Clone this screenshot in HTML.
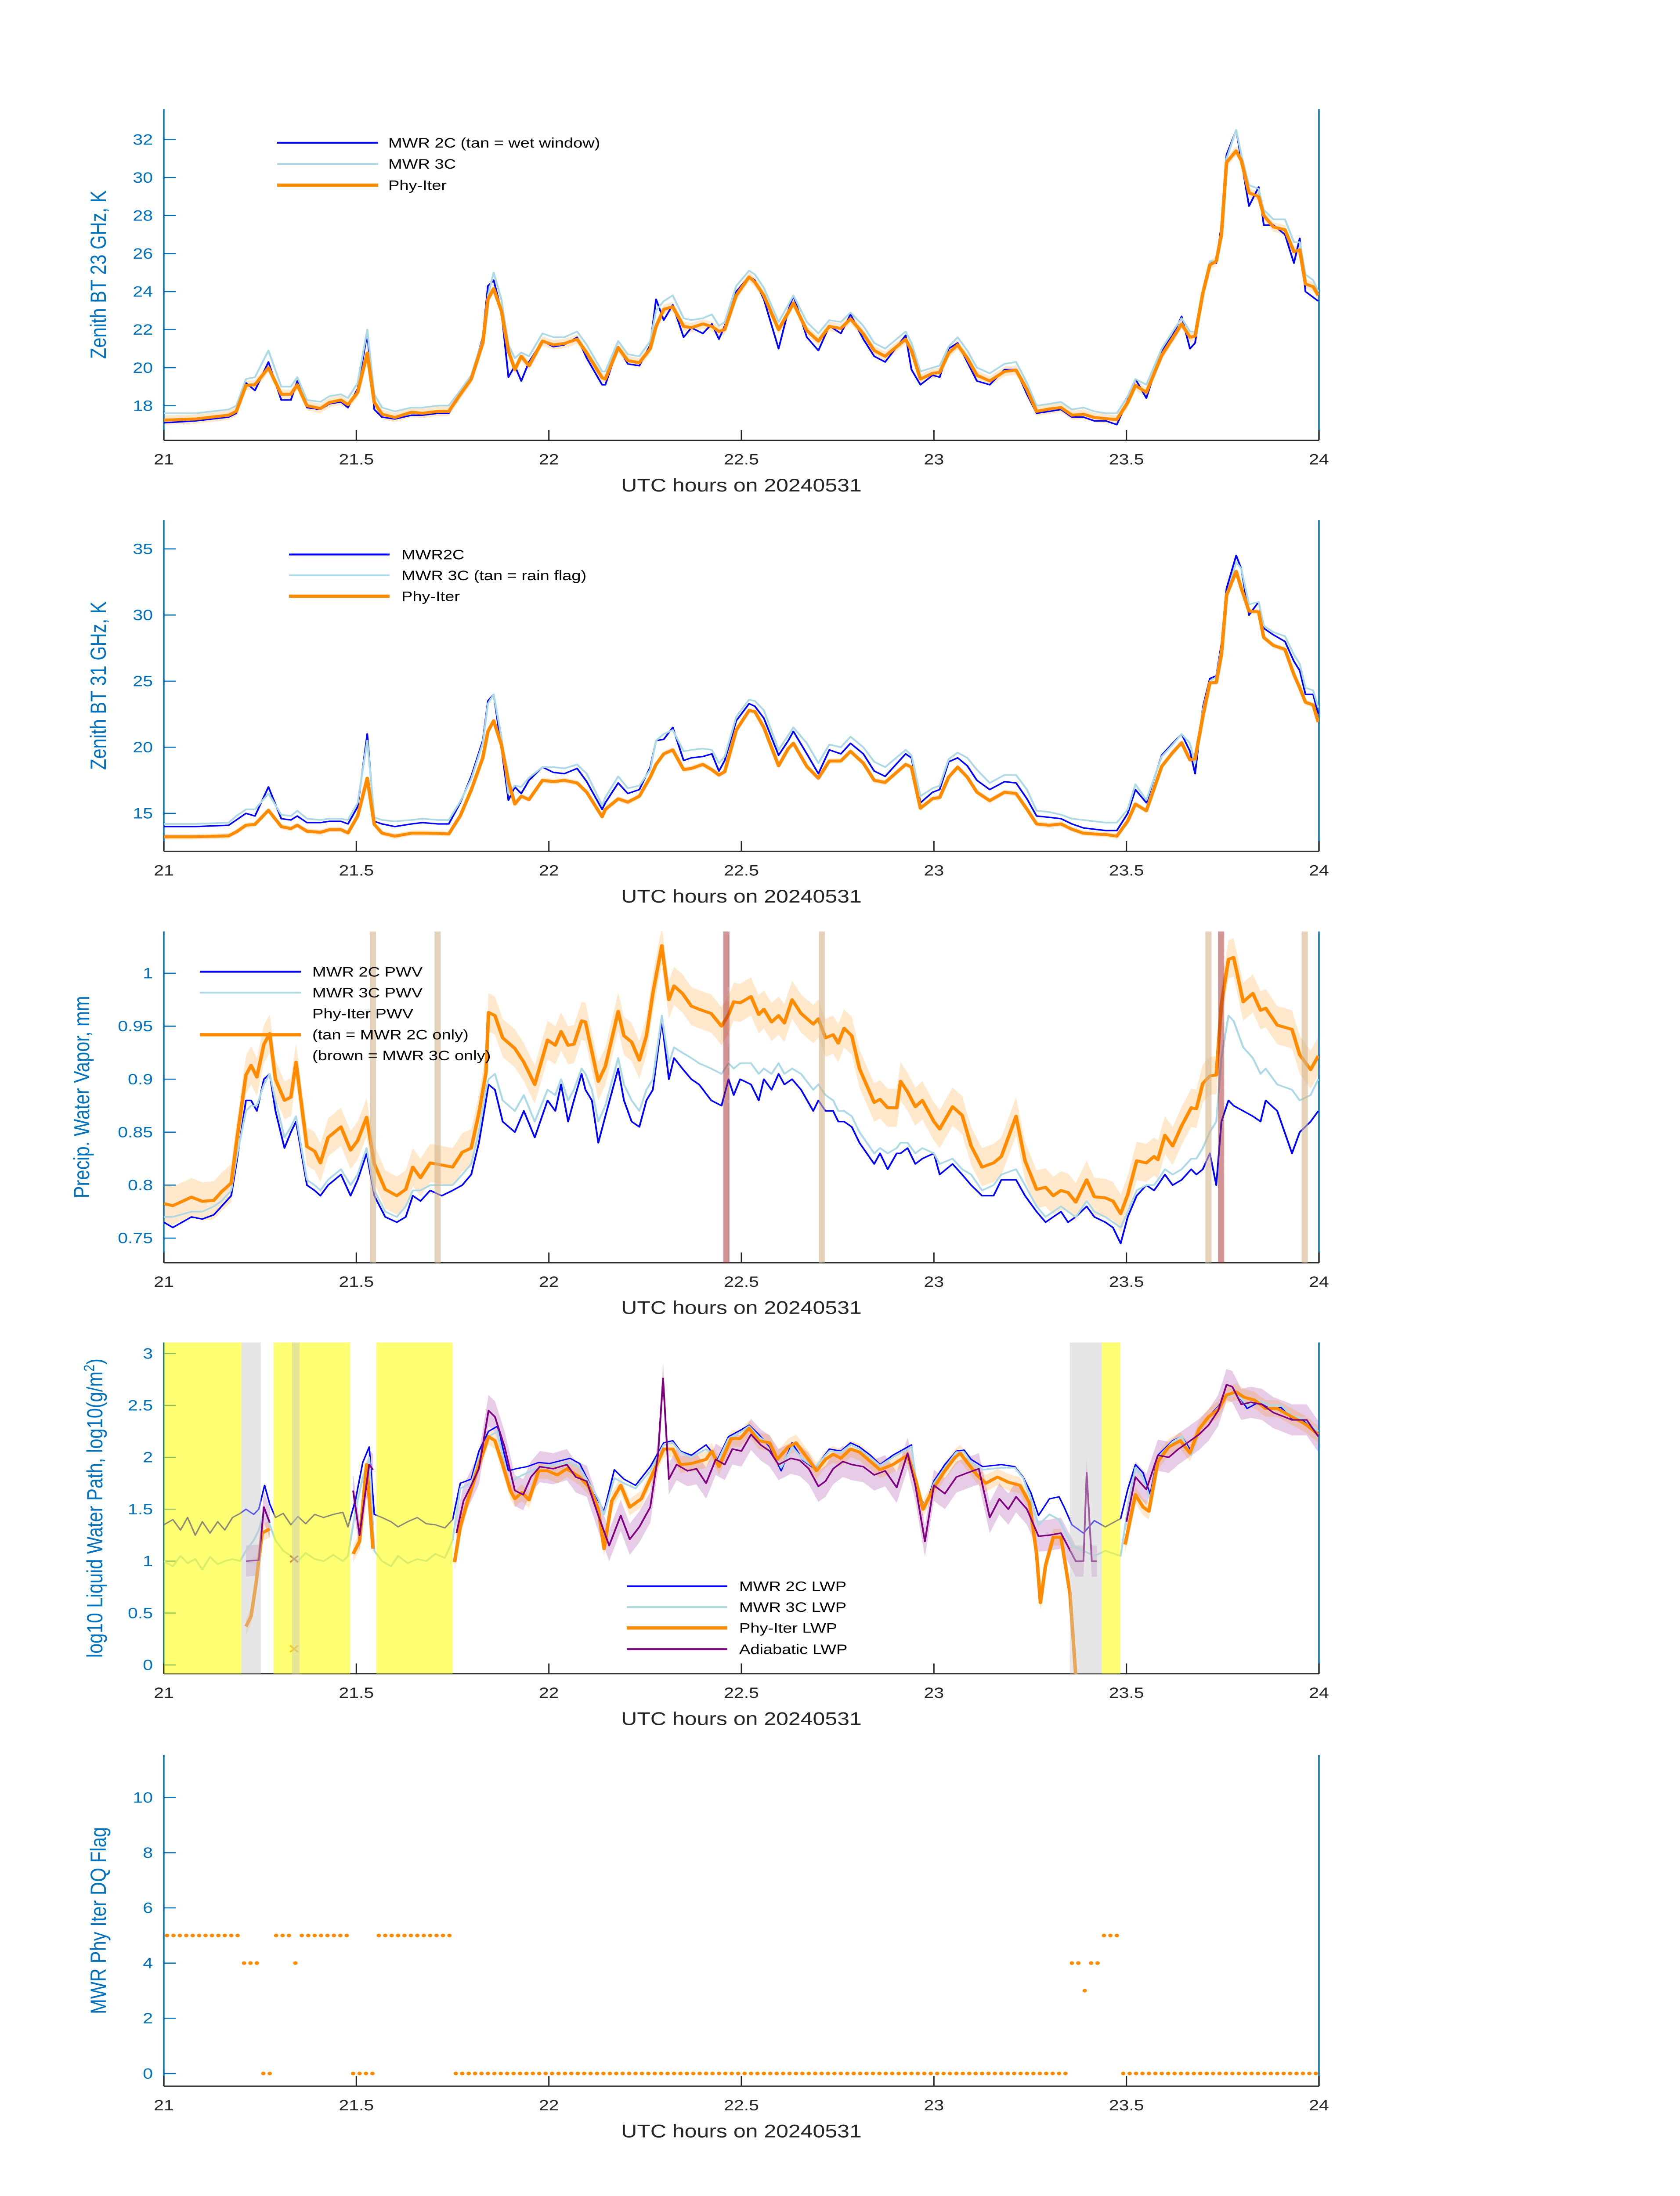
<!DOCTYPE html>
<html><head><meta charset="utf-8"><style>
html,body{margin:0;padding:0;background:#fff;width:100%;height:100%;overflow:hidden;}
svg{display:block;position:absolute;left:0;top:0;width:100vw;height:100vh;font-family:"Liberation Sans","DejaVu Sans",sans-serif;}
</style></head><body>
<svg id="fig" xmlns="http://www.w3.org/2000/svg" viewBox="0 0 3825 6000" preserveAspectRatio="none">
<rect x="0" y="0" width="3825" height="6000" fill="#ffffff"/>
</svg>
<script>
// ---------- data ----------
const xTicks=[21,21.5,22,22.5,23,23.5,24];
const xTickLabels=["21","21.5","22","22.5","23","23.5","24"];
const yTicks1=[18,20,22,24,26,28,30,32];
const yTicks2=[15,20,25,30,35];
const yTicks3=[0.75,0.8,0.85,0.9,0.95,1];
const yTickLabels3=["0.75","0.8","0.85","0.9","0.95","1"];
const yTicks4=[0,0.5,1,1.5,2,2.5,3];
const yTickLabels4=["0","0.5","1","1.5","2","2.5","3"];
const yTicks5=[0,2,4,6,8,10];

// panel 1 & 2 time grid (minutes after 21 UTC)
const tMin12=[0,4.9,10.1,11.3,12.8,14.2,16.3,18.3,19.8,20.8,22.3,24.4,25.8,27.6,28.7,30.2,31.7,32.8,34.0,36.0,38.6,40.3,42.7,44.4,46.2,47.9,49.7,50.5,51.4,52.6,53.7,54.7,55.7,56.9,59.0,60.7,62.4,64.4,65.9,68.3,68.8,70.8,72.3,74.1,75.8,76.7,77.9,79.3,81.0,82.2,84.0,85.4,86.5,87.4,89.2,91.2,92.1,93.5,95.8,97.3,98.1,100.2,102.0,103.7,105.5,107.0,109.0,110.7,112.4,115.6,116.5,117.9,119.8,120.9,122.3,123.7,125.2,126.7,128.7,131.0,132.8,134.5,136.0,138.0,139.8,141.5,143.3,145.0,146.8,148.5,150.2,151.4,153.1,155.5,157.2,158.6,159.9,160.7,161.9,163.0,164.0,164.8,165.6,167.1,167.9,169.1,170.6,171.4,172.9,174.7,176.1,177.0,177.9,179.1,179.9];
const bt23_2c=[17.1,17.2,17.4,17.6,19.2,18.8,20.3,18.3,18.3,19.3,17.9,17.8,18.1,18.2,17.9,18.9,21.8,17.8,17.4,17.3,17.5,17.5,17.6,17.6,18.6,19.5,21.6,24.3,24.6,23.0,19.5,20.1,19.3,20.3,21.4,21.1,21.2,21.6,20.5,19.1,19.1,21.1,20.2,20.1,21.2,23.6,22.5,23.3,21.6,22.1,21.8,22.3,21.5,22.2,24.0,24.8,24.6,23.6,21.0,23.0,23.8,21.6,20.9,22.2,21.8,22.8,21.5,20.6,20.3,21.7,19.9,19.1,19.6,19.5,21.0,21.3,20.3,19.3,19.1,19.9,19.9,18.6,17.6,17.7,17.8,17.4,17.4,17.2,17.2,17.0,18.3,19.4,18.4,20.9,21.7,22.7,21.0,21.3,24.0,25.6,25.5,27.5,31.2,32.5,30.9,28.5,29.5,27.5,27.5,27.0,25.5,26.8,24.0,23.7,23.5];
const bt23_3c=[17.6,17.6,17.8,18.0,19.4,19.5,20.9,19.0,19.0,19.5,18.3,18.2,18.5,18.6,18.4,19.2,22.0,18.6,17.9,17.7,17.9,17.9,18.0,18.0,18.8,19.6,21.5,23.8,25.0,23.6,21.2,20.5,20.8,20.6,21.8,21.6,21.6,21.9,21.2,19.8,19.8,21.4,20.7,20.6,21.4,23.0,23.5,23.8,22.6,22.5,22.6,22.8,22.2,22.4,24.3,25.1,24.9,24.2,22.4,23.3,23.8,22.4,21.8,22.5,22.4,22.9,22.2,21.3,21.0,21.9,21.3,19.8,20.0,20.1,21.1,21.6,20.9,20.0,19.7,20.2,20.3,19.2,18.0,18.1,18.2,17.8,17.9,17.7,17.6,17.6,18.5,19.4,19.1,21.0,21.9,22.6,21.9,21.9,24.1,25.6,25.6,27.2,31.0,32.5,31.2,29.6,29.4,28.3,27.8,27.8,26.6,26.6,24.9,24.6,24.0];
const bt23_phy=[17.24,17.3,17.5,17.7,19.07,19.1,20.0,18.6,18.6,19.1,18.0,17.85,18.17,18.3,18.05,18.7,20.77,18.17,17.55,17.38,17.66,17.6,17.7,17.7,18.6,19.4,21.3,23.6,24.15,23.0,20.88,19.9,20.6,20.1,21.4,21.2,21.27,21.5,20.77,19.47,19.4,21.05,20.37,20.26,21.0,22.17,23.07,23.2,22.17,22.1,22.3,22.17,21.9,22.0,23.8,24.77,24.5,23.8,22.0,22.9,23.4,21.95,21.4,22.17,22.06,22.57,21.78,20.9,20.6,21.5,20.9,19.4,19.7,19.75,20.77,21.2,20.5,19.6,19.3,19.8,19.87,18.85,17.7,17.83,17.9,17.5,17.55,17.38,17.32,17.27,18.17,19.07,18.7,20.65,21.55,22.3,21.6,21.66,23.9,25.4,25.6,27.0,30.8,31.4,30.9,29.2,29.0,28.0,27.4,27.25,26.1,26.2,24.4,24.26,23.8];
const bt31_2c=[14.0,14.0,14.1,14.5,15.0,14.8,17.0,14.6,14.5,14.8,14.3,14.3,14.4,14.4,14.2,15.5,21.0,14.4,14.2,14.0,14.2,14.3,14.2,14.2,15.8,17.8,20.5,23.5,24.0,20.0,16.0,17.0,16.5,17.5,18.5,18.1,18.0,18.4,17.4,15.3,15.8,17.3,16.5,16.8,18.5,20.5,20.6,21.5,19.0,19.2,19.3,19.5,18.2,19.0,22.0,23.3,23.1,22.2,19.4,20.5,21.2,19.5,18.0,19.8,19.5,20.3,19.5,18.2,17.8,19.5,19.2,15.8,16.6,16.8,18.9,19.2,18.6,17.5,16.8,17.4,17.3,16.1,14.8,14.7,14.6,14.2,13.9,13.8,13.7,13.7,15.0,16.8,15.8,19.4,20.3,21.0,19.7,18.0,23.0,25.2,25.4,27.8,32.0,34.5,33.5,30.0,31.0,29.0,28.5,28.0,26.5,25.8,24.0,24.0,22.5];
const bt31_3c=[14.2,14.2,14.3,14.8,15.3,15.3,16.5,14.9,14.8,15.2,14.6,14.5,14.6,14.6,14.5,15.8,20.5,14.7,14.5,14.4,14.5,14.6,14.5,14.5,15.9,17.6,20.3,23.3,24.0,20.8,16.5,17.1,17.0,17.7,18.5,18.5,18.4,18.7,18.0,15.6,16.2,17.8,16.9,17.1,18.3,20.5,21.0,21.3,19.7,19.8,19.9,19.8,18.8,19.3,22.3,23.6,23.5,22.8,19.8,20.9,21.5,20.3,18.8,20.2,20.0,20.8,20.0,18.9,18.5,19.8,19.4,16.3,16.9,17.1,19.1,19.6,19.2,18.3,17.3,17.9,17.9,16.8,15.2,15.1,14.9,14.6,14.5,14.4,14.3,14.3,15.3,17.2,16.0,19.3,20.2,21.0,20.3,18.8,22.8,25.0,25.3,27.5,31.5,34.0,33.5,30.8,31.0,29.2,28.7,28.4,27.0,26.3,24.5,24.3,23.0];
const bt31_phy=[13.23,13.23,13.3,13.6,14.1,14.17,15.23,14.0,13.85,14.1,13.65,13.57,13.77,13.77,13.52,14.8,17.66,14.17,13.5,13.28,13.5,13.5,13.49,13.44,14.82,16.77,19.2,21.2,22.0,20.2,17.42,15.71,16.3,16.04,17.5,17.4,17.5,17.3,16.6,14.74,15.3,16.1,15.85,16.3,17.74,18.7,19.5,19.8,18.31,18.4,18.7,18.3,17.9,18.15,21.3,22.78,22.7,21.5,18.6,19.9,20.3,18.55,17.66,18.96,18.96,19.69,18.8,17.5,17.34,18.7,18.5,15.39,16.12,16.2,17.74,18.5,17.74,16.6,15.96,16.6,16.5,15.31,14.2,14.1,14.2,13.8,13.5,13.44,13.4,13.28,14.42,15.7,15.2,18.55,19.6,20.34,19.04,19.12,22.29,24.89,24.89,27.0,31.5,33.3,32.03,30.3,30.24,28.3,27.7,27.4,25.5,24.5,23.4,23.2,21.9];

// panel 3
const tMin3=[0,1.4,4.3,6.0,7.8,9.0,10.5,11.3,12.8,13.6,14.5,15.6,16.5,17.4,18.8,19.8,20.6,22.3,23.5,24.4,25.6,27.6,29.1,30.2,31.6,32.8,34.5,36.3,37.7,38.8,40.0,41.5,43.3,45.0,46.5,47.9,49.1,50.2,50.6,51.6,52.8,54.7,56.1,57.8,59.8,61.0,61.9,63.0,63.9,65.1,65.7,66.7,67.7,68.8,70.8,71.7,72.9,74.1,75.2,76.2,77.6,78.7,79.5,80.8,82.2,83.4,85.3,86.9,88.0,88.8,89.8,91.5,92.7,93.5,94.7,95.8,96.7,97.9,99.3,101.2,102.0,103.1,104.3,105.1,106.0,107.2,108.4,110.7,111.6,112.8,114.2,114.8,115.9,117.1,118.2,120.0,120.9,122.9,124.4,125.8,127.5,129.3,130.5,132.8,134.2,136.0,137.4,138.6,139.8,140.9,142.1,143.8,145.0,146.7,147.9,149.1,150.2,151.6,153.1,154.3,154.9,156.0,157.2,158.6,160.1,160.9,161.9,163.0,164.0,164.8,165.9,166.7,168.2,169.7,170.9,171.7,173.5,175.8,177.0,178.7,179.9];
const pwv_2c=[0.765,0.760,0.770,0.768,0.772,0.780,0.790,0.820,0.880,0.880,0.870,0.900,0.905,0.870,0.835,0.850,0.860,0.800,0.795,0.790,0.800,0.810,0.790,0.805,0.830,0.790,0.770,0.765,0.770,0.790,0.785,0.795,0.790,0.795,0.800,0.810,0.840,0.880,0.895,0.890,0.860,0.850,0.870,0.845,0.880,0.870,0.895,0.860,0.880,0.905,0.890,0.880,0.840,0.865,0.910,0.880,0.860,0.855,0.880,0.890,0.955,0.900,0.920,0.910,0.900,0.895,0.880,0.875,0.900,0.885,0.900,0.895,0.880,0.900,0.890,0.905,0.895,0.900,0.890,0.870,0.880,0.870,0.870,0.860,0.860,0.855,0.840,0.820,0.830,0.815,0.830,0.830,0.835,0.820,0.825,0.830,0.810,0.820,0.810,0.800,0.790,0.790,0.805,0.805,0.790,0.775,0.765,0.770,0.775,0.765,0.770,0.780,0.770,0.765,0.760,0.745,0.770,0.790,0.800,0.795,0.800,0.810,0.800,0.805,0.815,0.810,0.815,0.830,0.800,0.860,0.880,0.875,0.870,0.865,0.860,0.880,0.870,0.830,0.850,0.860,0.870];
const pwv_3c=[0.770,0.770,0.775,0.775,0.780,0.785,0.795,0.825,0.870,0.875,0.875,0.895,0.905,0.880,0.845,0.855,0.865,0.805,0.800,0.795,0.805,0.815,0.800,0.810,0.835,0.795,0.775,0.770,0.780,0.795,0.795,0.800,0.800,0.800,0.810,0.820,0.850,0.890,0.900,0.905,0.880,0.870,0.885,0.860,0.890,0.885,0.900,0.880,0.890,0.910,0.905,0.890,0.860,0.875,0.920,0.895,0.880,0.870,0.890,0.900,0.960,0.915,0.930,0.925,0.920,0.915,0.910,0.905,0.915,0.910,0.915,0.915,0.905,0.910,0.905,0.915,0.905,0.910,0.905,0.890,0.895,0.885,0.880,0.870,0.870,0.865,0.850,0.830,0.835,0.830,0.835,0.840,0.840,0.830,0.835,0.830,0.820,0.825,0.815,0.810,0.795,0.800,0.810,0.815,0.800,0.780,0.770,0.775,0.780,0.775,0.770,0.785,0.775,0.770,0.765,0.760,0.775,0.795,0.800,0.800,0.805,0.815,0.810,0.815,0.825,0.825,0.835,0.850,0.860,0.920,0.960,0.955,0.930,0.920,0.905,0.910,0.895,0.890,0.880,0.885,0.900];
const pwv_phy=[0.7826,0.7806,0.7887,0.7847,0.7857,0.7938,0.8019,0.8394,0.904,0.913,0.902,0.933,0.943,0.900,0.880,0.883,0.916,0.8364,0.832,0.821,0.845,0.855,0.833,0.842,0.864,0.820,0.796,0.790,0.796,0.817,0.807,0.821,0.819,0.817,0.831,0.835,0.868,0.906,0.963,0.960,0.939,0.929,0.916,0.895,0.937,0.932,0.945,0.932,0.933,0.955,0.954,0.926,0.898,0.912,0.964,0.941,0.935,0.918,0.941,0.981,1.026,0.975,0.988,0.981,0.969,0.966,0.962,0.950,0.961,0.973,0.972,0.978,0.961,0.966,0.954,0.960,0.953,0.975,0.962,0.952,0.957,0.939,0.942,0.934,0.948,0.941,0.910,0.878,0.881,0.873,0.873,0.898,0.888,0.874,0.880,0.860,0.853,0.874,0.866,0.837,0.817,0.821,0.827,0.865,0.823,0.796,0.798,0.790,0.795,0.793,0.784,0.805,0.789,0.788,0.785,0.773,0.791,0.823,0.821,0.827,0.824,0.847,0.837,0.856,0.873,0.872,0.896,0.903,0.904,0.971,1.013,1.015,0.973,0.981,0.965,0.967,0.951,0.947,0.923,0.909,0.922];
const tanFlagHours=[21.543,21.711,22.709,23.713,23.963];
const brownFlagHours=[22.461,23.746];

// panel 4
const tMin4=[0,1.4,2.6,3.7,4.9,6.0,7.2,8.4,9.5,10.7,11.9,12.8,14.0,14.8,15.7,16.5,17.4,18.6,19.8,20.9,22.1,23.5,24.9,26.4,27.9,28.7,29.9,31.0,32.0,32.8,34.0,35.4,36.5,38.0,39.5,40.9,42.3,43.8,45.0,46.2,47.9,49.1,50.6,52.0,53.7,54.9,56.6,58.4,60.1,63.3,64.8,67.7,68.6,70.2,71.7,73.5,75.8,77.9,79.3,80.5,82.2,84.5,86.3,88.0,89.8,91.2,92.7,94.4,96.2,97.9,99.6,101.4,103.7,105.5,107.0,108.4,110.1,111.6,113.6,116.5,117.4,118.6,120.0,121.7,123.5,124.7,125.8,127.6,130.5,132.6,133.9,135.1,136.3,138.0,139.5,140.3,141.5,143.3,145.0,146.7,149.1,150.2,151.4,152.6,153.7,154.9,157.2,158.6,160.1,161.3,162.8,164.3,165.6,167.1,168.8,170.6,172.3,174.1,175.8,177.6,179.9];
const lwp_2c=[1.35,1.4,1.3,1.42,1.25,1.38,1.27,1.38,1.3,1.42,1.46,1.5,1.45,1.5,1.73,1.55,1.42,1.46,1.35,1.43,1.36,1.45,1.42,1.45,1.47,1.33,1.6,1.95,2.1,1.45,1.42,1.38,1.33,1.38,1.42,1.36,1.35,1.32,1.4,1.75,1.79,2.06,2.25,2.3,1.87,1.89,1.91,1.95,1.94,1.99,1.94,1.58,1.48,1.88,1.79,1.73,1.91,2.14,2.16,2.06,2.02,2.12,1.98,2.2,2.26,2.31,2.22,2.1,1.87,2.14,1.97,1.89,2.08,2.06,2.14,2.1,2.02,1.93,2.02,2.12,1.69,1.52,1.77,1.93,2.06,2.07,1.98,1.91,1.93,1.91,1.81,1.66,1.44,1.6,1.62,1.52,1.35,1.27,1.39,1.33,1.41,1.69,1.93,1.85,1.64,2.02,2.16,2.2,2.06,2.27,2.39,2.49,2.6,2.63,2.47,2.53,2.47,2.48,2.37,2.35,2.22];
const lwp_3c=[1.0,0.95,1.05,0.98,1.02,0.92,1.04,0.97,1.0,1.02,1.0,1.1,1.2,1.3,1.5,1.35,1.2,1.1,1.05,1.0,1.08,1.02,1.0,1.06,1.0,1.05,1.5,1.8,2.0,1.1,1.0,0.95,1.05,0.98,1.02,1.0,1.07,1.03,1.2,1.7,1.75,2.0,2.2,2.25,1.75,1.8,1.85,1.9,1.92,1.95,1.9,1.6,1.45,1.8,1.75,1.7,1.87,2.12,2.14,2.05,2.0,2.08,1.96,2.18,2.24,2.3,2.2,2.12,1.9,2.1,1.98,1.9,2.06,2.05,2.12,2.08,2.0,1.92,2.0,2.1,1.7,1.5,1.75,1.9,2.05,2.05,1.95,1.88,1.9,1.9,1.8,1.6,1.35,1.45,1.4,1.3,1.15,1.1,1.05,1.1,1.05,1.5,1.9,1.8,1.6,2.0,2.15,2.2,2.02,2.25,2.38,2.48,2.58,2.62,2.5,2.55,2.5,2.5,2.4,2.37,2.25];
const tMinPhy4=[12.8,13.6,14.4,15.3,16.5,null,29.5,30.5,31.6,32.6,null,45.3,46.2,47.3,49.1,50.6,51.6,52.8,54.0,54.7,55.8,56.9,58.4,59.8,61.3,62.8,64.8,66.3,67.7,68.6,69.8,71.2,72.6,74.4,75.8,77.9,79.3,80.5,82.2,84.5,85.4,86.5,88.4,89.8,91.2,92.7,94.4,95.6,97.3,98.5,100.2,101.7,103.1,104.3,105.5,107.0,108.4,110.1,111.6,113.6,115.9,117.1,118.3,120.0,121.7,123.3,124.1,125.2,126.7,128.1,129.9,131.6,133.4,134.9,136.0,136.6,137.4,138.6,139.8,141.2,142.1,null,149.8,151.4,152.6,153.5,154.9,156.6,158.4,159.9,161.3,162.8,164.3,165.6,167.1,168.3,170.0,171.7,173.5,175.8,177.0,178.1,179.9];
const lwp_phy=[0.37,0.47,0.8,1.27,1.31,null,1.07,1.19,1.93,1.12,null,0.99,1.33,1.57,1.93,2.2,2.16,1.93,1.68,1.60,1.66,1.59,1.87,1.87,1.83,1.89,1.81,1.71,1.50,1.12,1.58,1.73,1.52,1.60,1.79,2.08,2.08,1.93,1.94,1.98,2.06,1.91,2.18,2.18,2.28,2.16,2.14,1.98,2.10,2.14,2.0,1.87,1.98,2.03,1.99,2.08,2.05,1.96,1.88,1.93,2.02,1.79,1.50,1.71,1.87,2.0,2.04,1.95,1.83,1.75,1.81,1.76,1.73,1.56,1.07,0.60,0.96,1.23,1.23,0.69,-0.1,null,1.16,1.64,1.52,1.48,1.96,2.10,2.16,2.04,2.27,2.39,2.46,2.60,2.63,2.58,2.55,2.47,2.47,2.39,2.35,2.31,2.22];
const tMinAdi4=[12.8,14.8,15.6,16.5,null,29.5,30.5,32.0,32.6,null,45.6,46.7,47.9,49.1,50.6,51.6,53.1,54.7,56.0,57.2,58.6,60.7,62.8,64.2,65.9,67.7,69.4,71.2,72.6,74.1,75.8,77.0,77.8,78.7,79.9,81.6,83.0,84.5,86.0,87.4,88.6,90.0,91.5,93.0,94.4,95.8,97.7,99.1,100.5,102.0,103.1,104.3,105.8,107.2,109.0,110.7,112.4,114.2,115.9,117.1,118.6,120.0,121.7,123.5,125.2,127.0,128.7,130.2,131.6,132.8,134.5,136.3,138.0,139.8,142.1,143.3,143.8,144.6,145.4,null,150.0,151.4,153.1,154.9,156.6,158.1,159.5,161.3,162.8,164.3,165.6,166.5,167.9,169.4,171.1,172.9,174.6,175.8,178.1,179.9];
const lwp_adi=[1.0,1.01,1.52,1.37,null,1.68,1.25,1.93,1.88,null,1.27,1.58,1.73,1.89,2.45,2.39,2.1,1.68,1.64,1.81,1.91,1.89,1.93,1.81,1.77,1.44,1.15,1.44,1.21,1.33,1.52,2.02,2.76,1.79,1.93,1.87,1.89,1.75,1.98,1.93,2.08,2.06,2.22,2.12,2.06,1.93,1.99,1.97,1.89,1.72,1.77,1.89,1.96,1.93,1.91,1.83,1.87,1.71,2.04,1.73,1.19,1.73,1.65,1.81,1.85,1.89,1.42,1.60,1.50,1.62,1.50,1.24,1.25,1.27,1.0,1.0,1.85,1.0,1.0,null,1.38,1.81,1.69,2.02,2.0,2.08,2.14,2.22,2.31,2.45,2.7,2.68,2.51,2.53,2.51,2.43,2.39,2.36,2.36,2.2];
const wetWindowHours=[[21.0,21.2016],[21.285,21.484],[21.552,21.75],[23.436,23.484]];
const grayFlagHours=[[21.2016,21.252],[21.333,21.353],[23.353,23.436]];
const markTMin=[20.3];
const markPhy=[0.155];
const markAdi=[1.02];

// panel 5 (one per minute)
const dqFlag=[5,5,5,5,5,5,5,5,5,5,5,5,4,4,4,0,0,5,5,5,4,5,5,5,5,5,5,5,5,0,0,0,0,5,5,5,5,5,5,5,5,5,5,5,5,
0,0,0,0,0,0,0,0,0,0,0,0,0,0,0,0,0,0,0,0,0,0,0,0,0,0,0,0,0,0,0,0,0,0,0,0,0,0,0,0,0,0,0,0,0,0,0,0,0,0,0,0,0,0,0,0,0,0,0,0,0,0,0,0,0,0,0,0,0,0,0,0,0,0,0,0,0,0,0,0,0,0,0,0,0,0,0,0,0,0,0,0,0,0,0,0,
4,4,3,4,4,5,5,5,
0,0,0,0,0,0,0,0,0,0,0,0,0,0,0,0,0,0,0,0,0,0,0,0,0,0,0,0,0,0,0];

// ---------- drawing ----------
const NS="http://www.w3.org/2000/svg";
const svg=document.getElementById('fig');
const X0=373,X1=3003;
function xs(h){return X0+(h-21)/3*(X1-X0);}
function mk(tag,attrs,parent){const e=document.createElementNS(NS,tag);for(const k in attrs)e.setAttribute(k,attrs[k]);(parent||svg).appendChild(e);return e;}
const panels=[
 {top:298,bot:1203,ymin:16.18,ymax:33.6},
 {top:1421,bot:2326,ymin:12.13,ymax:37.18},
 {top:2545,bot:3450,ymin:0.7268,ymax:1.0394},
 {top:3668,bot:4573,ymin:-0.0846,ymax:3.106},
 {top:4795,bot:5700,ymin:-0.46,ymax:11.54}];
function ys(p,v){return p.bot-(v-p.ymin)/(p.ymax-p.ymin)*(p.bot-p.top);}
function pathD(p,tm,vals){let d='',pen=false;for(let i=0;i<vals.length;i++){if(vals[i]===null||tm[i]===null){pen=false;continue;}const x=xs(21+tm[i]/60),y=ys(p,vals[i]);d+=(pen?'L':'M')+x.toFixed(1)+','+y.toFixed(1);pen=true;}return d;}
function bandD(p,tm,vals,w){let segs=[],cur=[];for(let i=0;i<vals.length;i++){if(vals[i]===null||tm[i]===null){if(cur.length)segs.push(cur);cur=[];}else cur.push(i);}if(cur.length)segs.push(cur);let d='';segs.forEach(s=>{s.forEach((i,k)=>{d+=(k?'L':'M')+xs(21+tm[i]/60).toFixed(1)+','+ys(p,vals[i]+w).toFixed(1);});for(let k=s.length-1;k>=0;k--){const i=s[k];d+='L'+xs(21+tm[i]/60).toFixed(1)+','+ys(p,vals[i]-w).toFixed(1);}d+='Z';});return d;}
const defs=mk('defs',{});
panels.forEach((p,i)=>{const c=mk('clipPath',{id:'clip'+i},defs);mk('rect',{x:X0,y:p.top,width:X1-X0,height:p.bot-p.top},c);});

function axes(pi,ticks,labels,ylabel,ylabelX,parts){
 const p=panels[pi];
 const g=mk('g',{});
 
 
 const xa=mk('line',{x1:X0,y1:p.bot,x2:X1,y2:p.bot,stroke:'#262626','stroke-width':3.5},g);
 
 
 const ya=mk('line',{x1:X0,y1:p.top,x2:X0,y2:p.bot,stroke:'#0072BD','stroke-width':3.5},g);
 
 
 const ra=mk('line',{x1:X1,y1:p.top,x2:X1,y2:p.bot,stroke:'#0072BD','stroke-width':3.5},g);
 
 
 xTicks.forEach((t,i)=>{
  const tk=mk('line',{x1:xs(t),y1:p.bot,x2:xs(t),y2:p.bot-28,stroke:'#262626','stroke-width':3},g);
  
  
  const tl=mk('text',{x:xs(t),y:p.bot+66,'text-anchor':'middle','font-size':41,fill:'#262626'},g);
  tl.textContent=xTickLabels[i];
  
  
 });
 ticks.forEach((v,i)=>{
  const y=ys(p,v);
  const tk=mk('line',{x1:X0,y1:y,x2:X0+27,y2:y,stroke:'#0072BD','stroke-width':3},g);
  
  
  const tl=mk('text',{x:348,y:y+14,'text-anchor':'end','font-size':41,fill:'#0072BD'},g);
  tl.textContent=labels?labels[i]:String(v);
  
  
 });
 const xl=mk('text',{x:(X0+X1)/2,y:p.bot+140,'text-anchor':'middle','font-size':50,fill:'#262626'},g);
 xl.textContent='UTC hours on 20240531';
 
 
 const cy=(p.top+p.bot)/2;
 const yl=mk('text',{x:ylabelX,y:cy,'text-anchor':'middle','font-size':50,fill:'#0072BD',transform:'rotate(-90 '+ylabelX+' '+cy+')'},g);
 if(parts){parts.forEach(pt=>{const ts=mk('tspan',pt.sup?{'baseline-shift':'super','font-size':34}:{},yl);ts.textContent=pt.t;});}
 else yl.textContent=ylabel;
 
 
}
function series(pi,tm,vals,color,w,name){
 const p=panels[pi];
 const e=mk('path',{d:pathD(p,tm,vals),fill:'none',stroke:color,'stroke-width':w,'stroke-linejoin':'round','clip-path':'url(#clip'+pi+')'});
 
 
 return e;
}
function band(pi,tm,vals,wd,color,name){
 const p=panels[pi];
 const e=mk('path',{d:bandD(p,tm,vals,wd),fill:color,stroke:'none','clip-path':'url(#clip'+pi+')'});
 
 
}
function legend(x0,x1,tx,rows){
 rows.forEach(r=>{
  if(r.color){
   const l=mk('line',{x1:x0,y1:r.y,x2:x1,y2:r.y,stroke:r.color,'stroke-width':r.w});
   
   
  }
  const t=mk('text',{x:tx,y:r.y+13,'font-size':38,fill:'#000'});
  t.textContent=r.text;
  
  
 });
}
const BLUE='#0000FF',LB='#ADD8E6',OR='#FF8C00',PU='#7E0080';

// Panel 1
axes(0,yTicks1,null,'Zenith BT 23 GHz, K',241);
band(0,tMin12,bt23_phy,0.25,'rgba(255,140,0,0.2)','phy-iter-uncertainty-band');
series(0,tMin12,bt23_2c,BLUE,4,'mwr2c-line');
series(0,tMin12,bt23_3c,LB,4.5,'mwr3c-line');
series(0,tMin12,bt23_phy,OR,8,'phy-iter-line');
legend(631,861,884,[{y:390,color:BLUE,w:5,text:'MWR 2C (tan = wet window)'},{y:448,color:LB,w:5,text:'MWR 3C'},{y:506,color:OR,w:9,text:'Phy-Iter'}]);

// Panel 2
axes(1,yTicks2,null,'Zenith BT 31 GHz, K',241);
band(1,tMin12,bt31_phy,0.2,'rgba(255,140,0,0.2)','phy-iter-uncertainty-band');
series(1,tMin12,bt31_2c,BLUE,4,'mwr2c-line');
series(1,tMin12,bt31_3c,LB,4.5,'mwr3c-line');
series(1,tMin12,bt31_phy,OR,8,'phy-iter-line');
legend(658,887,914,[{y:1515,color:BLUE,w:5,text:'MWR2C'},{y:1572,color:LB,w:5,text:'MWR 3C (tan = rain flag)'},{y:1629,color:OR,w:9,text:'Phy-Iter'}]);

// Panel 3
axes(2,yTicks3,yTickLabels3,'Precip. Water Vapor, mm',203);
band(2,tMin3,pwv_phy,0.018,'rgba(255,140,0,0.2)','phy-iter-pwv-uncertainty-band');
series(2,tMin3,pwv_2c,BLUE,4,'mwr2c-pwv-line');
series(2,tMin3,pwv_3c,LB,4.5,'mwr3c-pwv-line');
series(2,tMin3,pwv_phy,OR,8,'phy-iter-pwv-line');
tanFlagHours.forEach(h=>{
 const r=mk('rect',{x:xs(h)-7,y:panels[2].top,width:14,height:panels[2].bot-panels[2].top,fill:'rgba(210,180,140,0.6)'});
 
 
});
brownFlagHours.forEach(h=>{
 const r=mk('rect',{x:xs(h)-7,y:panels[2].top,width:14,height:panels[2].bot-panels[2].top,fill:'rgba(165,42,42,0.5)'});
 
 
});
legend(455,685,711,[{y:2655,color:BLUE,w:5,text:'MWR 2C PWV'},{y:2712,color:LB,w:5,text:'MWR 3C PWV'},{y:2769,text:'Phy-Iter PWV'},{y:2827,color:OR,w:9,text:'(tan = MWR 2C only)'},{y:2884,text:'(brown = MWR 3C only)'}]);

// Panel 4
axes(3,yTicks4,yTickLabels4,'',233,[{t:'log10 Liquid Water Path, log10(g/m'},{t:'2',sup:true},{t:')'}]);
band(3,tMinAdi4,lwp_adi,0.15,'rgba(128,0,128,0.2)','adiabatic-lwp-uncertainty-band');
band(3,tMinPhy4,lwp_phy,0.08,'rgba(255,140,0,0.2)','phy-iter-lwp-uncertainty-band');
series(3,tMin4,lwp_2c,BLUE,3.5,'mwr2c-lwp-line');
series(3,tMin4,lwp_3c,LB,4.5,'mwr3c-lwp-line');
series(3,tMinPhy4,lwp_phy,OR,8,'phy-iter-lwp-line');
series(3,tMinAdi4,lwp_adi,PU,4,'adiabatic-lwp-line');
markTMin.forEach((m,i)=>{
 const x=xs(21+m/60);
 [[markPhy[i],OR,'phy-iter-marker'],[markAdi[i],PU,'adiabatic-marker']].forEach(a=>{
  const y=ys(panels[3],a[0]);
  const e=mk('path',{d:`M${x-9},${y-9}L${x+9},${y+9}M${x-9},${y+9}L${x+9},${y-9}`,stroke:a[1],'stroke-width':4,fill:'none'});
  
  
 });
});
wetWindowHours.forEach(b=>{
 const r=mk('rect',{x:xs(b[0]),y:panels[3].top,width:xs(b[1])-xs(b[0]),height:panels[3].bot-panels[3].top,fill:'rgba(255,255,0,0.55)'});
 
 
});
grayFlagHours.forEach(b=>{
 const r=mk('rect',{x:xs(b[0]),y:panels[3].top,width:xs(b[1])-xs(b[0]),height:panels[3].bot-panels[3].top,fill:'rgba(200,200,200,0.45)'});
 
 
});
legend(1427,1656,1683,[{y:4334,color:BLUE,w:5,text:'MWR 2C LWP'},{y:4391,color:LB,w:5,text:'MWR 3C LWP'},{y:4448,color:OR,w:9,text:'Phy-Iter LWP'},{y:4506,color:PU,w:5,text:'Adiabatic LWP'}]);

// Panel 5
axes(4,yTicks5,null,'MWR Phy Iter DQ Flag',241);
dqFlag.forEach((v,i)=>{
 const c=mk('circle',{cx:xs(21+(i+0.5)/60),cy:ys(panels[4],v),r:5,fill:OR});
 
 
});
</script>
</body></html>
